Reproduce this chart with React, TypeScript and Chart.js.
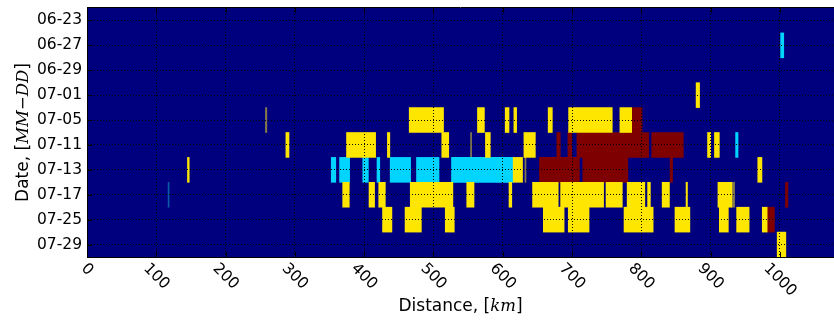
import React, { useEffect, useRef } from 'react';
import { Chart, registerables } from 'chart.js';

Chart.register(...registerables);

// Rows (dates) from top to bottom
const dates = ['06-23', '06-27', '06-29', '07-01', '07-05', '07-11', '07-13', '07-17', '07-25', '07-29'];
// Distance axis
const distanceTicks = [0, 100, 200, 300, 400, 500, 600, 700, 800, 900, 1000];
const distanceMin = 0;
const distanceMax = 1078;

type Seg = [string, number, number];

// [date, startKm, endKm]
const yellowSegments: Seg[] = [
  ['07-01', 879, 884],
  ['07-05', 465, 514.5], ['07-05', 563.5, 573.5], ['07-05', 603.5, 609], ['07-05', 616, 620],
  ['07-05', 665.5, 671.5], ['07-05', 695, 758], ['07-05', 769, 786],
  ['07-11', 287, 291.5], ['07-11', 374.5, 416.5], ['07-11', 433.5, 437], ['07-11', 512, 522],
  ['07-11', 575, 582], ['07-11', 630.5, 647], ['07-11', 895.5, 900], ['07-11', 905.5, 912.5],
  ['07-13', 145, 147.5], ['07-13', 615, 628.5], ['07-13', 968, 974],
  ['07-17', 369, 378.5], ['07-17', 407, 415], ['07-17', 421, 430.5], ['07-17', 466.5, 528],
  ['07-17', 548, 558.5], ['07-17', 609, 613], ['07-17', 643, 680], ['07-17', 683.5, 745.5],
  ['07-17', 749, 772.5], ['07-17', 779.5, 805], ['07-17', 809, 813], ['07-17', 830, 840.5],
  ['07-17', 864.5, 866.5], ['07-17', 910.5, 930.5],
  ['07-25', 426.5, 440], ['07-25', 459, 482.5], ['07-25', 517, 530], ['07-25', 658.5, 688.5],
  ['07-25', 694.5, 724.5], ['07-25', 775, 817], ['07-25', 848.5, 870], ['07-25', 912.5, 925.5],
  ['07-25', 937.5, 955.5], ['07-25', 974.5, 981.5],
  ['07-29', 996, 1008.5],
];

const cyanSegments: Seg[] = [
  ['06-27', 1001, 1005.5],
  ['07-11', 936, 939.5],
  ['07-13', 352.5, 359], ['07-13', 364.5, 379], ['07-13', 398, 406], ['07-13', 418.5, 422.5],
  ['07-13', 437.5, 467], ['07-13', 475.5, 508], ['07-13', 526, 615],
];

const darkRedSegments: Seg[] = [
  ['07-05', 786, 801],
  ['07-11', 678, 683], ['07-11', 694, 699.5], ['07-11', 707, 810.5], ['07-11', 815, 860.5],
  ['07-13', 653, 710.5], ['07-13', 715.5, 780.5], ['07-13', 841.5, 845],
  ['07-17', 1008, 1011.5],
  ['07-25', 981.5, 992],
];

const faintYellowSegments: Seg[] = [
  ['07-05', 257.5, 259.5], ['07-11', 553.5, 555], ['07-13', 632, 633.5], ['07-17', 930.5, 934.5],
];

const faintCyanSegments: Seg[] = [
  ['07-17', 117, 118.5],
];

const COLORS = {
  background: '#00007f',
  yellow: '#ffe600',
  cyan: '#00d4ff',
  darkRed: '#7f0000',
  faintYellow: '#857a4a',
  faintCyan: '#0b5aa8',
};

const TICK_FONT = "15.5px 'DejaVu Sans'";
const TITLE_FONT = "17px 'DejaVu Sans'";
const MATH_FONT = "italic 16.5px 'DejaVu Serif'";

const toData = (segs: Seg[]) => segs.map(([d, a, b]) => ({ y: d, x: [a, b] }));

const makeDataset = (label: string, segs: Seg[], color: string) => ({
  label,
  data: toData(segs),
  backgroundColor: color,
  borderWidth: 0,
  grouped: false,
  categoryPercentage: 1,
  barPercentage: 1,
});

function drawMixed(ctx: CanvasRenderingContext2D, parts: [string, string][], cx: number, cy: number, rot: number) {
  ctx.save();
  let total = 0;
  const widths = parts.map(([t, f]) => {
    ctx.font = f;
    const w = ctx.measureText(t).width;
    total += w;
    return w;
  });
  ctx.translate(cx, cy);
  ctx.rotate(rot);
  ctx.fillStyle = '#000';
  ctx.textAlign = 'left';
  ctx.textBaseline = 'alphabetic';
  let x = -total / 2;
  parts.forEach(([t, f], i) => {
    ctx.font = f;
    ctx.fillText(t, x, 6);
    x += widths[i];
  });
  ctx.restore();
}

const framePlugin = {
  id: 'frameAndLabels',
  beforeDatasetsDraw(chart: any) {
    const { ctx, chartArea } = chart;
    ctx.save();
    ctx.fillStyle = COLORS.background;
    ctx.fillRect(chartArea.left, chartArea.top, chartArea.right - chartArea.left, chartArea.bottom - chartArea.top);
    ctx.restore();
  },
  afterDraw(chart: any) {
    const { ctx, chartArea } = chart;
    const xs = chart.scales.x;
    const ys = chart.scales.y;
    ctx.save();
    ctx.strokeStyle = '#000';
    ctx.lineWidth = 1;
    // top spine
    ctx.beginPath();
    ctx.moveTo(chartArea.left, Math.round(chartArea.top) - 0.5);
    ctx.lineTo(chartArea.right, Math.round(chartArea.top) - 0.5);
    ctx.stroke();
    // inward tick marks
    ctx.beginPath();
    distanceTicks.forEach((v) => {
      const px = Math.round(xs.getPixelForValue(v)) + 0.5;
      ctx.moveTo(px, chartArea.bottom);
      ctx.lineTo(px, chartArea.bottom - 5);
      ctx.moveTo(px, chartArea.top);
      ctx.lineTo(px, chartArea.top + 5);
    });
    dates.forEach((d, i) => {
      const py = Math.round(ys.getPixelForValue(i)) + 0.5;
      ctx.moveTo(chartArea.left, py);
      ctx.lineTo(chartArea.left + 5, py);
    });
    ctx.stroke();
    // x tick labels, rotated -45 degrees (clockwise), bbox centred on tick
    ctx.font = TICK_FONT;
    ctx.fillStyle = '#000';
    ctx.textAlign = 'center';
    ctx.textBaseline = 'middle';
    distanceTicks.forEach((v) => {
      const px = xs.getPixelForValue(v);
      const label = String(v);
      const w = ctx.measureText(label).width;
      const d = (w + 11.5) * Math.SQRT1_2;
      const cy = chartArea.bottom + 5 + d / 2;
      ctx.save();
      ctx.translate(px, cy);
      ctx.rotate(Math.PI / 4);
      ctx.fillText(label, 0, 0);
      ctx.restore();
    });
    ctx.restore();
    // axis titles
    drawMixed(ctx, [['Distance, [', TITLE_FONT], ['km', MATH_FONT], [']', TITLE_FONT]],
      (chartArea.left + chartArea.right) / 2, 305, 0);
    drawMixed(ctx, [['Date, [', TITLE_FONT], ['MM\u2212DD', MATH_FONT], [']', TITLE_FONT]],
      22, (chartArea.top + chartArea.bottom) / 2, -Math.PI / 2);
  },
};

export default function App() {
  const ref = useRef<HTMLCanvasElement | null>(null);
  useEffect(() => {
    if (!ref.current) return;
    Chart.defaults.font.family = "'DejaVu Sans'";
    const chart = new Chart(ref.current, {
      type: 'bar',
      data: {
        labels: dates,
        datasets: [
          makeDataset('yellow', yellowSegments, COLORS.yellow),
          makeDataset('cyan', cyanSegments, COLORS.cyan),
          makeDataset('darkRed', darkRedSegments, COLORS.darkRed),
          makeDataset('faintYellow', faintYellowSegments, COLORS.faintYellow),
          makeDataset('faintCyan', faintCyanSegments, COLORS.faintCyan),
        ] as any,
      },
      options: {
        indexAxis: 'y',
        responsive: false,
        animation: false,
        events: [],
        layout: { padding: { top: 8, left: 0, right: 0, bottom: 0 } },
        plugins: { legend: { display: false }, tooltip: { enabled: false } },
        scales: {
          x: {
            type: 'linear',
            position: 'bottom',
            min: distanceMin,
            max: distanceMax,
            z: 1,
            afterBuildTicks: (s: any) => {
              s.ticks = distanceTicks.map((v) => ({ value: v }));
            },
            ticks: { display: false },
            grid: { color: '#000', lineWidth: 1, drawTicks: false, z: 1 },
            border: { display: true, color: '#000', width: 1, dash: [1, 2], z: 2 },
            afterFit: (s: any) => {
              s.height = 66;
              s.paddingLeft = 0; s.paddingRight = 0; s.paddingTop = 0; s.paddingBottom = 0;
            },
          } as any,
          y: {
            type: 'category',
            position: 'left',
            offset: true,
            z: 1,
            ticks: { color: '#000', font: { family: "'DejaVu Sans'", size: 15.5 }, padding: 5, z: 1 },
            grid: { offset: false, color: '#000', lineWidth: 1, drawTicks: false, z: 1 },
            border: { display: true, color: '#000', width: 1, dash: [1, 2], z: 2 },
            afterFit: (s: any) => {
              s.width = 87;
              s.paddingLeft = 0; s.paddingRight = 0; s.paddingTop = 0; s.paddingBottom = 0;
            },
          } as any,
        },
      },
      plugins: [framePlugin],
    });
    return () => chart.destroy();
  }, []);
  return (
    <div style={{ position: 'absolute', left: 0, top: 0, width: 834, height: 323 }}>
      <canvas ref={ref} width={834} height={323} style={{ display: 'block' }} />
    </div>
  );
}
